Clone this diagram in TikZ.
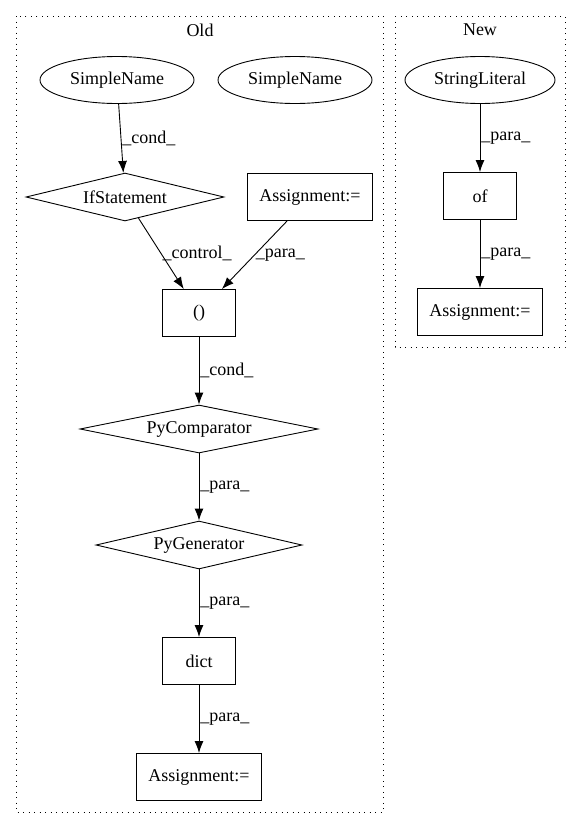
\documentclass[tikz,border=0pt]{standalone}
\usepackage{fontspec}
\setmainfont{Liberation Serif}
\usetikzlibrary{arrows.meta,shapes.geometric}

\begin{document}
\begin{tikzpicture}[x=1pt,y=-1pt,>={Latex[length=12pt,width=9pt]},node distance=116pt,line width=0.9pt,
	every node/.style={font=\fontsize{18}{20}\selectfont},
	box/.style={draw,rectangle,minimum width=73pt,minimum height=47pt,inner xsep=12pt},
	oval/.style={draw,ellipse,inner sep=0pt,minimum height=47pt},
	decision/.style={draw,diamond,aspect=4,inner sep=0pt,minimum height=48pt},
	lbl/.style={anchor=west,inner sep=1pt},
	cluster/.style={line width=1pt,dash pattern=on 1pt off 4.5pt}]

\useasboundingbox (0,0) rectangle (581,828);

% clusters
\draw[cluster] (16,16) rectangle (383,812);
\draw[cluster] (395,16) rectangle (565,347);
\node (old) at (200,30) {Old};
\node (new) at (480,30) {New};

% old
\node[oval,minimum width=154pt]    (sn1)   at (117,80)   {SimpleName};
	\node[oval,minimum width=154pt]    (sn2)   at (295,80)   {SimpleName};
\node[decision,minimum width=198pt]  (ifst)  at (125,197)  {IfStatement};
	\node[box]    (asg1)  at (310,197)  {Assignment:=};
\node[box]  (paren)  at (199,313)  {()};
	\node[decision,minimum width=238pt]  (cmp)  [below of=paren]  {PyComparator};
	\node[decision,minimum width=206pt]  (gen)  [below of=cmp]    {PyGenerator};
	\node[box]   (dict)  [below of=gen]   {dict};
	\node[box]   (asg2)  [below of=dict]  {Assignment:=};

% new
\node[oval,minimum width=150pt]  (str)  at (480,80)  {StringLiteral};
	\node[box]  (of)    [below of=str]  {of};
	\node[box]  (asg3)  [below of=of]   {Assignment:=};

\path[->] (sn1)   edge  node[lbl]{\_cond\_}     (ifst)
          (ifst)  edge  node[lbl]{\_control\_}  (paren)
          (asg1)  edge  node[lbl]{\_para\_}     (paren)
          (paren) edge  node[lbl]{\_cond\_}     (cmp)
          (cmp)   edge  node[lbl]{\_para\_}     (gen)
          (gen)   edge  node[lbl]{\_para\_}     (dict)
          (dict)  edge  node[lbl]{\_para\_}     (asg2)
          (str)   edge  node[lbl]{\_para\_}     (of)
          (of)    edge  node[lbl]{\_para\_}     (asg3);
\end{tikzpicture}
\end{document}
